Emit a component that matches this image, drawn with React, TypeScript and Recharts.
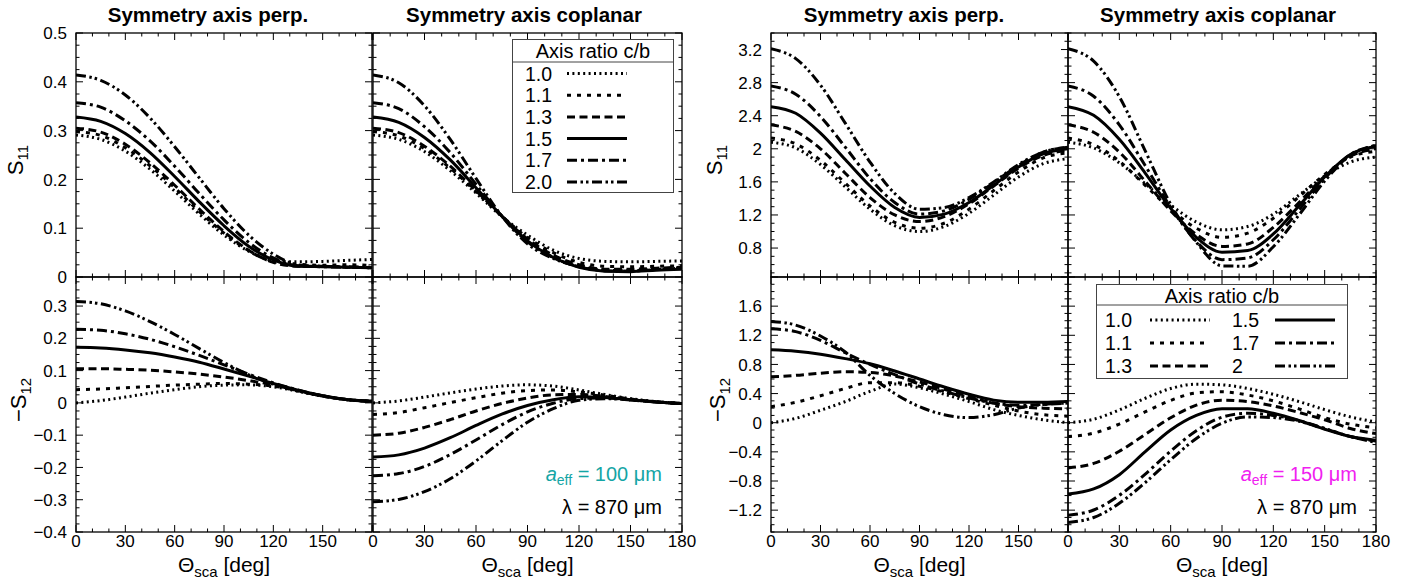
import React from 'react'
import { LineChart, Line, XAxis, YAxis, Legend } from 'recharts'

// scattering angle grid [deg]
const theta = [0, 15, 30, 45, 60, 75, 90, 105, 120, 135, 150, 165, 180]
const ratios = ['1.0', '1.1', '1.3', '1.5', '1.7', '2.0']
const ratioKeys = ['r10', 'r11', 'r13', 'r15', 'r17', 'r20']

// a_eff = 100 um, S11, symmetry axis perpendicular (rows: 1.0 .. 2.0)
const s11Perp100 = [
  [0.291, 0.282, 0.258, 0.221, 0.176, 0.129, 0.086, 0.053, 0.034, 0.031, 0.032, 0.034, 0.036],
  [0.298, 0.29, 0.265, 0.228, 0.183, 0.134, 0.09, 0.054, 0.031, 0.026, 0.024, 0.025, 0.024],
  [0.305, 0.297, 0.272, 0.234, 0.188, 0.139, 0.093, 0.055, 0.03, 0.022, 0.022, 0.02, 0.019],
  [0.328, 0.319, 0.294, 0.255, 0.206, 0.154, 0.105, 0.063, 0.035, 0.022, 0.021, 0.02, 0.019],
  [0.357, 0.348, 0.32, 0.279, 0.227, 0.171, 0.117, 0.071, 0.039, 0.023, 0.021, 0.02, 0.019],
  [0.414, 0.403, 0.373, 0.326, 0.267, 0.203, 0.14, 0.086, 0.047, 0.025, 0.022, 0.021, 0.02],
]
// a_eff = 100 um, S11, symmetry axis coplanar
const s11Cop100 = [
  [0.291, 0.282, 0.257, 0.218, 0.172, 0.124, 0.086, 0.055, 0.038, 0.032, 0.031, 0.032, 0.033],
  [0.298, 0.289, 0.263, 0.223, 0.175, 0.125, 0.081, 0.05, 0.03, 0.022, 0.021, 0.022, 0.023],
  [0.305, 0.296, 0.268, 0.227, 0.177, 0.125, 0.078, 0.045, 0.025, 0.016, 0.016, 0.018, 0.02],
  [0.328, 0.317, 0.286, 0.24, 0.183, 0.125, 0.074, 0.04, 0.02, 0.012, 0.011, 0.014, 0.016],
  [0.357, 0.345, 0.308, 0.255, 0.19, 0.125, 0.072, 0.04, 0.021, 0.013, 0.012, 0.015, 0.018],
  [0.414, 0.398, 0.351, 0.282, 0.202, 0.125, 0.068, 0.038, 0.022, 0.014, 0.013, 0.016, 0.018],
]
// a_eff = 100 um, -S12, perpendicular
const s12Perp100 = [
  [0.0, 0.007, 0.018, 0.03, 0.041, 0.05, 0.055, 0.056, 0.05, 0.036, 0.021, 0.01, 0.005],
  [0.041, 0.043, 0.047, 0.051, 0.055, 0.058, 0.06, 0.058, 0.052, 0.037, 0.021, 0.01, 0.005],
  [0.106, 0.106, 0.104, 0.101, 0.096, 0.089, 0.08, 0.069, 0.056, 0.038, 0.022, 0.01, 0.005],
  [0.172, 0.17, 0.164, 0.155, 0.142, 0.126, 0.105, 0.083, 0.06, 0.039, 0.022, 0.01, 0.005],
  [0.228, 0.225, 0.214, 0.197, 0.174, 0.147, 0.118, 0.089, 0.062, 0.04, 0.022, 0.01, 0.005],
  [0.314, 0.307, 0.285, 0.252, 0.212, 0.168, 0.125, 0.087, 0.058, 0.037, 0.021, 0.01, 0.005],
]
// a_eff = 100 um, -S12, coplanar
const s12Cop100 = [
  [0.0, 0.006, 0.018, 0.031, 0.043, 0.052, 0.056, 0.052, 0.04, 0.026, 0.013, 0.004, -0.002],
  [-0.036, -0.03, -0.015, 0.001, 0.016, 0.03, 0.038, 0.04, 0.034, 0.024, 0.012, 0.003, -0.002],
  [-0.1, -0.094, -0.076, -0.052, -0.025, -0.002, 0.015, 0.025, 0.026, 0.02, 0.011, 0.003, -0.002],
  [-0.168, -0.161, -0.14, -0.108, -0.07, -0.035, -0.008, 0.01, 0.019, 0.017, 0.01, 0.003, -0.002],
  [-0.226, -0.219, -0.197, -0.16, -0.115, -0.068, -0.028, -0.001, 0.013, 0.015, 0.009, 0.003, -0.002],
  [-0.306, -0.299, -0.275, -0.235, -0.18, -0.118, -0.06, -0.018, 0.008, 0.013, 0.009, 0.003, -0.002],
]
// a_eff = 150 um, S11, perpendicular
const s11Perp150 = [
  [2.08, 2.01, 1.81, 1.54, 1.27, 1.07, 1.0, 1.06, 1.22, 1.44, 1.66, 1.82, 1.88],
  [2.13, 2.06, 1.86, 1.585, 1.31, 1.11, 1.04, 1.1, 1.27, 1.495, 1.72, 1.89, 1.95],
  [2.29, 2.21, 2.0, 1.705, 1.41, 1.2, 1.12, 1.18, 1.335, 1.55, 1.765, 1.92, 1.98],
  [2.51, 2.43, 2.19, 1.87, 1.55, 1.29, 1.17, 1.21, 1.35, 1.56, 1.78, 1.94, 2.0],
  [2.76, 2.66, 2.39, 2.02, 1.64, 1.35, 1.21, 1.25, 1.39, 1.59, 1.8, 1.96, 2.02],
  [3.21, 3.09, 2.77, 2.31, 1.84, 1.46, 1.27, 1.29, 1.41, 1.6, 1.81, 1.96, 2.02],
]
// a_eff = 150 um, S11, coplanar
const s11Cop150 = [
  [2.08, 2.01, 1.83, 1.58, 1.32, 1.115, 1.02, 1.06, 1.21, 1.44, 1.67, 1.84, 1.9],
  [2.13, 2.05, 1.85, 1.56, 1.27, 1.04, 0.93, 0.98, 1.16, 1.42, 1.69, 1.9, 1.97],
  [2.29, 2.2, 1.96, 1.61, 1.25, 0.965, 0.82, 0.85, 1.05, 1.35, 1.67, 1.91, 2.0],
  [2.51, 2.405, 2.115, 1.71, 1.28, 0.93, 0.75, 0.77, 0.97, 1.31, 1.66, 1.93, 2.03],
  [2.76, 2.635, 2.29, 1.8, 1.295, 0.88, 0.66, 0.68, 0.9, 1.26, 1.64, 1.93, 2.04],
  [3.21, 3.06, 2.63, 1.98, 1.33, 0.87, 0.585, 0.58, 0.815, 1.2, 1.61, 1.92, 2.04],
]
// a_eff = 150 um, -S12, perpendicular
const s12Perp150 = [
  [0.0, 0.06, 0.17, 0.29, 0.43, 0.53, 0.48, 0.39, 0.29, 0.18, 0.1, 0.04, 0.0],
  [0.22, 0.28, 0.37, 0.47, 0.55, 0.55, 0.5, 0.42, 0.33, 0.24, 0.16, 0.11, 0.09],
  [0.63, 0.65, 0.68, 0.7, 0.69, 0.64, 0.56, 0.46, 0.36, 0.27, 0.22, 0.2, 0.19],
  [1.0, 0.98, 0.94, 0.88, 0.81, 0.71, 0.6, 0.49, 0.39, 0.31, 0.28, 0.28, 0.29],
  [1.29, 1.25, 1.13, 0.96, 0.8, 0.66, 0.53, 0.43, 0.34, 0.27, 0.24, 0.25, 0.27],
  [1.39, 1.34, 1.19, 0.97, 0.65, 0.4, 0.22, 0.11, 0.07, 0.11, 0.2, 0.25, 0.27],
]
// a_eff = 150 um, -S12, coplanar
const s12Cop150 = [
  [0.0, 0.048, 0.175, 0.334, 0.469, 0.529, 0.52, 0.47, 0.39, 0.29, 0.18, 0.08, 0.01],
  [-0.19, -0.143, -0.018, 0.149, 0.306, 0.409, 0.425, 0.38, 0.3, 0.19, 0.07, -0.02, -0.07],
  [-0.62, -0.559, -0.392, -0.163, 0.068, 0.241, 0.31, 0.29, 0.23, 0.14, 0.04, -0.08, -0.15],
  [-0.98, -0.909, -0.713, -0.4, -0.1, 0.1, 0.192, 0.19, 0.13, 0.03, -0.09, -0.19, -0.24],
  [-1.27, -1.198, -0.997, -0.709, -0.39, -0.109, 0.076, 0.13, 0.1, 0.03, -0.08, -0.19, -0.25],
  [-1.37, -1.301, -1.106, -0.824, -0.508, -0.217, -0.008, 0.08, 0.07, 0.02, -0.08, -0.19, -0.27],
]

// tick labels
const xLabelsLeft = [0, 30, 60, 90, 120, 150]
const xLabelsRight = [0, 30, 60, 90, 120, 150, 180]
const yLabelsS11a = [0, 0.1, 0.2, 0.3, 0.4, 0.5]
const yLabelsS12a = [-0.4, -0.3, -0.2, -0.1, 0, 0.1, 0.2, 0.3]
const yLabelsS11b = [0.8, 1.2, 1.6, 2, 2.4, 2.8, 3.2]
const yLabelsS12b = [-1.2, -0.8, -0.4, 0, 0.4, 0.8, 1.2, 1.6]

const dashes = ['2 3.4', '4 6', '8 4.5', undefined, '10 4 3 4', '10 3.5 2.5 3 2.5 3.5']
const FONT = '"Liberation Sans", Arial, Helvetica, sans-serif'

const range = (a: number, b: number, step: number) => {
  const n = Math.round((b - a) / step)
  return Array.from({ length: n + 1 }, (_, i) => +(a + i * step).toFixed(4))
}
const xTicks = range(0, 180, 10)

const fmt = (v: number) => (v < 0 ? '\u2212' : '') + String(Math.round(Math.abs(v) * 1000) / 1000)

const buildRows = (series: number[][]) =>
  theta.map((t, i) => {
    const row: Record<string, number> = { t }
    series.forEach((s, k) => {
      row[ratioKeys[k]] = s[i]
    })
    return row
  })

// space round each plot area; the axes themselves are 1px wide
const ML = 75
const MR = 30
const MT = 12
const MB = 45

const isIn = (list: number[], v: number) => list.some((m) => Math.abs(m - v) < 1e-6)

function makeYTick(plotW: number, labels: number[] | null, major: number[]) {
  return (props: any) => {
    const { x, y, payload } = props
    const v = payload.value
    const len = isIn(major, v) ? 7 : 3.5
    return (
      <g>
        <line x1={x} x2={x + len} y1={y} y2={y} stroke="#000" strokeWidth={1} />
        <line x1={x + plotW} x2={x + plotW - len} y1={y} y2={y} stroke="#000" strokeWidth={1} />
        {labels && isIn(labels, v) && (
          <text x={x - 9} y={y} dy="0.36em" textAnchor="end" fontSize={17} fontFamily={FONT} fill="#000">
            {fmt(v)}
          </text>
        )}
      </g>
    )
  }
}

function makeXTick(plotH: number, labels: number[] | null) {
  return (props: any) => {
    const { x, y, payload } = props
    const v = payload.value
    const len = v % 30 === 0 ? 7 : 3.5
    return (
      <g>
        <line x1={x} x2={x} y1={y} y2={y - len} stroke="#000" strokeWidth={1} />
        <line x1={x} x2={x} y1={y - plotH} y2={y - plotH + len} stroke="#000" strokeWidth={1} />
        {labels && labels.includes(v) && (
          <text x={x} y={y + 15} textAnchor="middle" fontSize={17} fontFamily={FONT} fill="#000">
            {v}
          </text>
        )}
      </g>
    )
  }
}

function Sample({ x1, x2, y, i }: { x1: number; x2: number; y: number; i: number }) {
  return <line x1={x1} x2={x2} y1={y} y2={y} stroke="#000" strokeWidth={3} strokeDasharray={dashes[i]} />
}

function LegendTall() {
  const w = 162
  const h = 154
  return (
    <svg width={w} height={h} style={{ display: 'block', fontFamily: FONT }}>
      <rect x={0.5} y={0.5} width={w - 1} height={h - 1} fill="#fff" stroke="#444" strokeWidth={1} />
      <text x={w / 2} y={19} textAnchor="middle" fontSize={20}>Axis ratio c/b</text>
      <line x1={0} x2={w} y1={23} y2={23} stroke="#444" strokeWidth={1} />
      {ratios.map((r, i) => {
        const cy = 34.5 + i * 21.7
        return (
          <g key={r}>
            <text x={13} y={cy + 7} fontSize={19.5}>{r}</text>
            <Sample x1={55} x2={115} y={cy} i={i} />
          </g>
        )
      })}
    </svg>
  )
}

function LegendWide() {
  const w = 252
  const h = 95
  const labels = ['1.0', '1.1', '1.3', '1.5', '1.7', '2']
  return (
    <svg width={w} height={h} style={{ display: 'block', fontFamily: FONT }}>
      <rect x={0.5} y={0.5} width={w - 1} height={h - 1} fill="#fff" stroke="#444" strokeWidth={1} />
      <text x={w / 2} y={19} textAnchor="middle" fontSize={20}>Axis ratio c/b</text>
      <line x1={0} x2={w} y1={21} y2={21} stroke="#444" strokeWidth={1} />
      {labels.map((r, i) => {
        const col = i < 3 ? 0 : 1
        const cy = 36 + (i % 3) * 23
        const lx = col === 0 ? 9 : 136
        const sx = col === 0 ? 54 : 179
        return (
          <g key={r}>
            <text x={lx} y={cy + 7} fontSize={19.5}>{r}</text>
            <Sample x1={sx} x2={sx + 60} y={cy} i={i} />
          </g>
        )
      })}
    </svg>
  )
}

type PanelProps = {
  left: number
  top: number
  w: number
  h: number
  series: number[][]
  yDomain: [number, number]
  yTicks: number[]
  yMajor: number[]
  yLabels: number[] | null
  xLabels: number[] | null
  legend?: { el: React.ReactNode; left: number; top: number; width: number; height: number }
}

function Panel({ left, top, w, h, series, yDomain, yTicks, yMajor, yLabels, xLabels, legend }: PanelProps) {
  const rows = buildRows(series)
  const cl = left - ML
  const ct = top - MT
  return (
    <div style={{ position: 'absolute', left: cl, top: ct }}>
      <LineChart
        width={w + ML + MR}
        height={h + MT + MB}
        data={rows}
        margin={{ top: MT, right: MR, bottom: MB - 1, left: ML - 1 }}
      >
        <XAxis
          dataKey="t"
          type="number"
          domain={[0, 180]}
          ticks={xTicks}
          interval={0}
          height={1}
          tickSize={0}
          tickMargin={0}
          axisLine={false}
          tickLine={false}
          tick={makeXTick(h, xLabels)}
          allowDataOverflow
        />
        <YAxis
          type="number"
          domain={yDomain}
          ticks={yTicks}
          interval={0}
          width={1}
          tickSize={0}
          tickMargin={0}
          axisLine={false}
          tickLine={false}
          tick={makeYTick(w, yLabels, yMajor)}
          allowDataOverflow
        />
        {ratioKeys.map((k, i) => (
          <Line
            key={k}
            dataKey={k}
            name={ratios[i]}
            type="monotone"
            stroke="#000"
            strokeWidth={3}
            strokeDasharray={dashes[i]}
            dot={false}
            activeDot={false}
            isAnimationActive={false}
          />
        ))}
        {legend && (
          <Legend
            layout="vertical"
            align="center"
            verticalAlign="middle"
            wrapperStyle={{ left: legend.left - cl, top: legend.top - ct, width: legend.width, height: legend.height }}
            content={() => legend.el}
          />
        )}
      </LineChart>
    </div>
  )
}

// panel frames (page coordinates)
const colL = [76, 373, 771, 1068]
const colW = [296, 309, 297, 308]
const rowT = [33, 277]
const rowH = [244, 255]

export default function App() {
  const ticksS11a = range(0, 0.5, 0.025)
  const ticksS12a = range(-0.4, 0.375, 0.025)
  const ticksS11b = range(0.5, 3.4, 0.1)
  const ticksS12b = range(-1.5, 2.0, 0.1)
  const majS11b = range(0.4, 3.2, 0.4)
  const majS12b = range(-1.2, 2.0, 0.4)

  const sub = 15
  return (
    <div style={{ position: 'absolute', left: 0, top: 0, width: 1424, height: 585, background: '#fff', fontFamily: FONT }}>
      <Panel left={colL[0]} top={rowT[0]} w={colW[0]} h={rowH[0]} series={s11Perp100} yDomain={[0, 0.5]}
        yTicks={ticksS11a} yMajor={yLabelsS11a} yLabels={yLabelsS11a} xLabels={null} />
      <Panel left={colL[1]} top={rowT[0]} w={colW[1]} h={rowH[0]} series={s11Cop100} yDomain={[0, 0.5]}
        yTicks={ticksS11a} yMajor={yLabelsS11a} yLabels={null} xLabels={null}
        legend={{ el: <LegendTall />, left: 512, top: 39, width: 162, height: 154 }} />
      <Panel left={colL[0]} top={rowT[1]} w={colW[0]} h={rowH[1]} series={s12Perp100} yDomain={[-0.4, 0.39]}
        yTicks={ticksS12a} yMajor={yLabelsS12a} yLabels={yLabelsS12a} xLabels={xLabelsLeft} />
      <Panel left={colL[1]} top={rowT[1]} w={colW[1]} h={rowH[1]} series={s12Cop100} yDomain={[-0.4, 0.39]}
        yTicks={ticksS12a} yMajor={yLabelsS12a} yLabels={null} xLabels={xLabelsRight} />

      <Panel left={colL[2]} top={rowT[0]} w={colW[2]} h={rowH[0]} series={s11Perp150} yDomain={[0.45, 3.4]}
        yTicks={ticksS11b} yMajor={majS11b} yLabels={yLabelsS11b} xLabels={null} />
      <Panel left={colL[3]} top={rowT[0]} w={colW[3]} h={rowH[0]} series={s11Cop150} yDomain={[0.45, 3.4]}
        yTicks={ticksS11b} yMajor={majS11b} yLabels={null} xLabels={null} />
      <Panel left={colL[2]} top={rowT[1]} w={colW[2]} h={rowH[1]} series={s12Perp150} yDomain={[-1.5, 2.0]}
        yTicks={ticksS12b} yMajor={majS12b} yLabels={yLabelsS12b} xLabels={xLabelsLeft} />
      <Panel left={colL[3]} top={rowT[1]} w={colW[3]} h={rowH[1]} series={s12Cop150} yDomain={[-1.5, 2.0]}
        yTicks={ticksS12b} yMajor={majS12b} yLabels={null} xLabels={xLabelsRight}
        legend={{ el: <LegendWide />, left: 1096, top: 284, width: 252, height: 95 }} />

      <svg width={1424} height={585} style={{ position: 'absolute', left: 0, top: 0, pointerEvents: 'none', fontFamily: FONT }}>
        {colL.map((l, c) =>
          rowT.map((t, r) => (
            <rect key={`${c}-${r}`} x={l} y={t} width={colW[c]} height={rowH[r]} fill="none" stroke="#000" strokeWidth={1.3} />
          ))
        )}
        <text x={208} y={22} textAnchor="middle" fontSize={20.5} fontWeight="bold">Symmetry axis perp.</text>
        <text x={524} y={22} textAnchor="middle" fontSize={20.5} fontWeight="bold">Symmetry axis coplanar</text>
        <text x={904} y={22} textAnchor="middle" fontSize={20.5} fontWeight="bold">Symmetry axis perp.</text>
        <text x={1218} y={22} textAnchor="middle" fontSize={20.5} fontWeight="bold">Symmetry axis coplanar</text>

        <text transform="translate(23,160) rotate(-90)" textAnchor="middle" fontSize={22}>
          S<tspan fontSize={sub} dy={5}>11</tspan>
        </text>
        <text transform="translate(26,400) rotate(-90)" textAnchor="middle" fontSize={22}>
          {'\u2212'}S<tspan fontSize={sub} dy={5}>12</tspan>
        </text>
        <text transform="translate(722,160) rotate(-90)" textAnchor="middle" fontSize={22}>
          S<tspan fontSize={sub} dy={5}>11</tspan>
        </text>
        <text transform="translate(725,400) rotate(-90)" textAnchor="middle" fontSize={22}>
          {'\u2212'}S<tspan fontSize={sub} dy={5}>12</tspan>
        </text>

        {[224, 527.5, 919.5, 1222].map((cx) => (
          <text key={cx} x={cx} y={572} textAnchor="middle" fontSize={21}>
            {'\u0398'}<tspan fontSize={sub} dy={5}>sca</tspan><tspan dy={-5}> [deg]</tspan>
          </text>
        ))}

        <text x={662} y={481} textAnchor="end" fontSize={20} fill="#14a5a5">
          <tspan fontStyle="italic">a</tspan><tspan fontSize={14} dy={4}>eff</tspan><tspan dy={-4}> = 100 {'\u03bc'}m</tspan>
        </text>
        <text x={662} y={514} textAnchor="end" fontSize={20}>{'\u03bb'} = 870 {'\u03bc'}m</text>
        <text x={1357} y={481} textAnchor="end" fontSize={20} fill="#f020f0">
          <tspan fontStyle="italic">a</tspan><tspan fontSize={14} dy={4}>eff</tspan><tspan dy={-4}> = 150 {'\u03bc'}m</tspan>
        </text>
        <text x={1357} y={514} textAnchor="end" fontSize={20}>{'\u03bb'} = 870 {'\u03bc'}m</text>
      </svg>
    </div>
  )
}
